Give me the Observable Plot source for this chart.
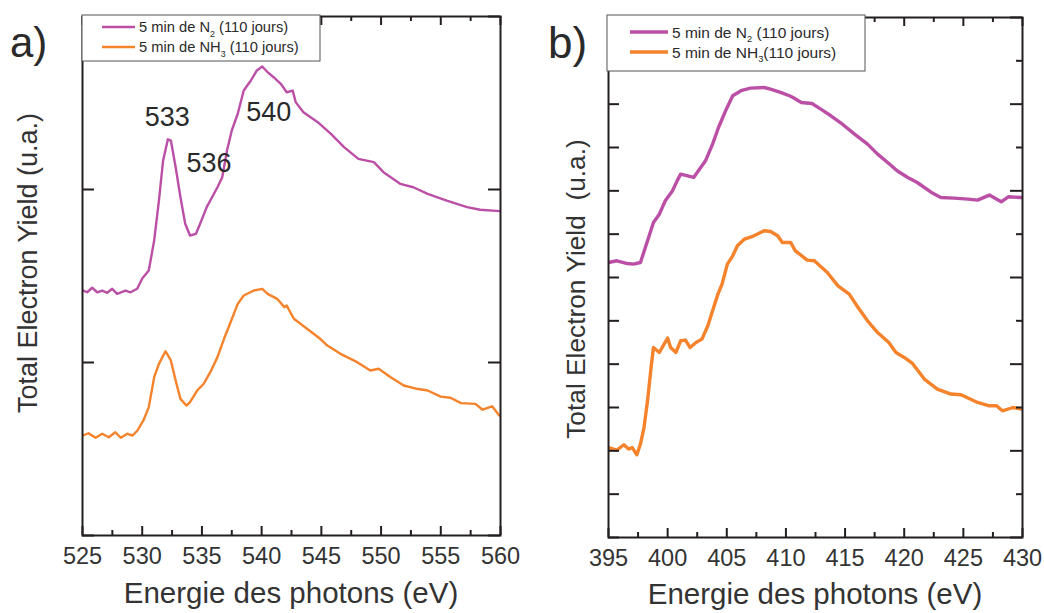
<!DOCTYPE html>
<html>
<head>
<meta charset="utf-8">
<script src="https://cdn.jsdelivr.net/npm/d3@7"></script>
<script src="https://cdn.jsdelivr.net/npm/@observablehq/plot@0.6"></script>
<style>
  html, body { margin: 0; padding: 0; background: #fff; }
  #wrap { position: relative; width: 1044px; height: 613px; overflow: hidden; font-family: "Liberation Sans", Arial, sans-serif; }
  #wrap > .panel { position: absolute; top: 0; }
  #overlay { position: absolute; left: 0; top: 0; pointer-events: none; }
</style>
</head>
<body>
<div id="wrap">
  <div class="panel" id="pa" style="left:0px"></div>
  <div class="panel" id="pb" style="left:530px"></div>
</div>
<script>
// ---------- Data: panel a) O K-edge ----------
const energyA_N2 = [525.06,525.39,525.81,526.23,526.65,527.07,527.49,527.9,528.6,529.02,529.58,530.0,530.55,531.0,531.4,531.75,532.15,532.4,532.8,533.2,533.6,534.0,534.5,534.9,535.4,536.3,536.7,537.1,537.5,538.0,538.5,539.1,539.6,540.05,540.5,541.0,541.6,542.1,542.6,542.85,543.5,544.7,545.8,546.9,548.1,549.4,550.2,551.6,552.7,553.9,555.5,557.2,558.3,560.0];
const yieldA_N2 = [1.416,1.406,1.432,1.406,1.416,1.403,1.426,1.397,1.416,1.406,1.426,1.486,1.532,1.705,1.936,2.168,2.29,2.283,2.129,1.956,1.802,1.734,1.744,1.811,1.898,2.013,2.071,2.225,2.341,2.438,2.572,2.630,2.688,2.711,2.678,2.649,2.611,2.562,2.572,2.505,2.447,2.389,2.322,2.245,2.177,2.158,2.100,2.033,2.013,1.975,1.936,1.898,1.883,1.875];
const energyA_NH3 = [525.05,525.5,526.1,526.65,527.2,527.75,528.2,528.75,529.2,529.6,530.1,530.55,531.0,531.4,531.95,532.4,532.8,533.2,533.7,534.0,534.6,535.15,535.7,536.3,536.85,537.4,538.0,538.5,539.35,540.05,540.5,541.3,541.9,542.1,542.7,543.8,544.9,545.5,546.6,548.0,549.1,549.8,550.8,551.9,553.0,553.9,555.0,555.8,556.7,557.9,558.5,559.3,559.9];
const yieldA_NH3 = [0.578,0.591,0.565,0.588,0.568,0.597,0.565,0.588,0.578,0.607,0.665,0.742,0.915,0.992,1.065,1.012,0.896,0.790,0.751,0.771,0.838,0.877,0.944,1.031,1.137,1.233,1.339,1.387,1.416,1.426,1.397,1.368,1.320,1.329,1.253,1.195,1.137,1.098,1.050,1.002,0.954,0.964,0.915,0.867,0.848,0.838,0.803,0.796,0.765,0.761,0.727,0.747,0.694];

// ---------- Data: panel b) N K-edge ----------
const energyB_N2 = [395.0,395.7,396.6,397.1,397.7,398.3,398.8,399.3,399.8,400.4,400.8,401.1,401.7,402.2,402.6,403.2,403.8,404.3,404.9,405.5,406.2,407.0,408.15,408.7,409.6,410.3,410.6,411.3,412.2,412.95,413.8,414.6,415.8,416.9,417.75,418.6,419.4,420.3,421.1,422.3,423.1,424.2,425.4,426.2,427.2,428.2,428.8,429.9];
const yieldB_N2 = [3.173,3.193,3.161,3.154,3.173,3.423,3.634,3.731,3.885,3.999,4.115,4.193,4.173,4.154,4.231,4.346,4.539,4.731,4.924,5.097,5.155,5.185,5.192,5.174,5.134,5.097,5.077,5.019,5.008,4.943,4.866,4.788,4.654,4.539,4.424,4.327,4.231,4.154,4.096,3.981,3.923,3.916,3.904,3.893,3.951,3.873,3.931,3.923];
const energyB_NH3 = [395.0,395.7,396.3,396.7,397.0,397.4,397.7,398.0,398.3,398.6,398.8,399.3,399.7,400.0,400.25,400.7,401.1,401.5,401.9,402.4,402.9,403.4,403.8,404.25,404.6,405.05,405.5,405.9,406.5,407.3,408.15,408.7,409.3,409.7,410.4,410.8,411.8,412.4,413.5,414.4,415.35,416.1,416.9,417.75,418.7,419.3,420.0,420.7,421.7,422.8,423.95,424.8,426.2,427.2,427.8,428.3,429.2,429.9];
const yieldB_NH3 = [1.038,1.008,1.070,1.020,1.038,0.954,1.078,1.269,1.577,1.961,2.192,2.135,2.231,2.301,2.192,2.135,2.270,2.278,2.192,2.250,2.289,2.443,2.616,2.808,2.924,3.155,3.250,3.366,3.443,3.481,3.539,3.531,3.481,3.404,3.404,3.308,3.201,3.193,3.058,2.904,2.808,2.654,2.500,2.365,2.250,2.135,2.077,2.008,1.828,1.712,1.655,1.647,1.558,1.520,1.520,1.462,1.500,1.481];

// ---------- Ticks, labels, texts ----------
const xMajorA = [525,530,535,540,545,550,555,560];
const xMinorA = [527.5,532.5,537.5,542.5,547.5,552.5,557.5];
const yMajorA = [0,1,2,3];
const xMajorB = [395,400,405,410,415,420,425,430];
const xMinorB = [397.5,402.5,407.5,412.5,417.5,422.5,427.5];
const yMajorB = [0,1,2,3,4,5,6];
const yMinorB = [0.5,1.5,2.5,3.5,4.5,5.5];
const peakLabels = ["533","536","540"];
const peakX = [532.1,535.6,540.6];
const peakY = [2.416,2.150,2.445];
const seriesNames = ["5 min de N2 (110 jours)","5 min de NH3 (110 jours)"];
const colorN2 = "#bb4fa6";
const colorNH3 = "#f5832b";
const ink = "#231f20";
const textInk = "#333";

const toRows = (xs, ys) => xs.map((x, i) => ({x, y: ys[i]}));

// ---------- Panel a ----------
const hA = 613, mTA = 16, mBA = 78, wA = 520, mLA = 82, mRA = 20;
const plotHA = hA - mTA - mBA, plotWA = wA - mLA - mRA;
const chartA = Plot.plot({
  width: wA, height: hA,
  marginLeft: mLA, marginRight: mRA, marginTop: mTA, marginBottom: mBA,
  style: {background: "transparent", fontFamily: "Liberation Sans, Arial, sans-serif", color: ink},
  x: {domain: [525, 560], axis: null},
  y: {domain: [0, 3], axis: null},
  marks: [
    Plot.line(toRows(energyA_N2, yieldA_N2), {x: "x", y: "y", stroke: colorN2, strokeWidth: 2.4, clip: true}),
    Plot.line(toRows(energyA_NH3, yieldA_NH3), {x: "x", y: "y", stroke: colorNH3, strokeWidth: 2.4, clip: true}),
    Plot.frame({stroke: ink, strokeWidth: 2}),
    Plot.tickX(xMajorA, {x: d => d, insetTop: plotHA - 9, stroke: ink, strokeWidth: 2}),
    Plot.tickX(xMinorA, {x: d => d, insetTop: plotHA - 5, stroke: ink, strokeWidth: 2}),
    Plot.tickX(xMajorA, {x: d => d, insetBottom: plotHA - 9, stroke: ink, strokeWidth: 2}),
    Plot.tickX(xMinorA, {x: d => d, insetBottom: plotHA - 5, stroke: ink, strokeWidth: 2}),
    Plot.tickY(yMajorA, {y: d => d, insetRight: plotWA - 12, stroke: ink, strokeWidth: 2}),
    Plot.tickY(yMajorA, {y: d => d, insetLeft: plotWA - 12, stroke: ink, strokeWidth: 2}),
    Plot.axisX(xMajorA, {tickSize: 0, tickPadding: 12, fontSize: 23.5, fill: textInk, label: null}),
    Plot.text(peakLabels, {x: (d, i) => peakX[i], y: (d, i) => peakY[i], text: d => d, fontSize: 27, fill: "#2a2a2a"})
  ]
});
document.getElementById("pa").appendChild(chartA);

// ---------- Panel b ----------
const hB = 613, mTB = 17, mBB = 76, wB = 514, mLB = 78, mRB = 22;
const plotHB = hB - mTB - mBB, plotWB = wB - mLB - mRB;
const chartB = Plot.plot({
  width: wB, height: hB,
  marginLeft: mLB, marginRight: mRB, marginTop: mTB, marginBottom: mBB,
  style: {background: "transparent", fontFamily: "Liberation Sans, Arial, sans-serif", color: ink},
  x: {domain: [395, 430], axis: null},
  y: {domain: [0, 6], axis: null},
  marks: [
    Plot.line(toRows(energyB_N2, yieldB_N2), {x: "x", y: "y", stroke: colorN2, strokeWidth: 3.4, clip: true}),
    Plot.line(toRows(energyB_NH3, yieldB_NH3), {x: "x", y: "y", stroke: colorNH3, strokeWidth: 3.4, clip: true}),
    Plot.frame({stroke: ink, strokeWidth: 2}),
    Plot.tickX(xMajorB, {x: d => d, insetTop: plotHB - 9, stroke: ink, strokeWidth: 2}),
    Plot.tickX(xMinorB, {x: d => d, insetTop: plotHB - 5, stroke: ink, strokeWidth: 2}),
    Plot.tickX(xMajorB, {x: d => d, insetBottom: plotHB - 9, stroke: ink, strokeWidth: 2}),
    Plot.tickX(xMinorB, {x: d => d, insetBottom: plotHB - 5, stroke: ink, strokeWidth: 2}),
    Plot.tickY(yMajorB.concat(yMinorB), {y: d => d, insetRight: plotWB - 11, stroke: ink, strokeWidth: 2}),
    Plot.tickY(yMajorB, {y: d => d, insetLeft: plotWB - 12, stroke: ink, strokeWidth: 2}),
    Plot.tickY(yMinorB, {y: d => d, insetLeft: plotWB - 6, stroke: ink, strokeWidth: 2}),
    Plot.axisX(xMajorB, {tickSize: 0, tickPadding: 12, fontSize: 23.5, fill: textInk, label: null})
  ]
});
document.getElementById("pb").appendChild(chartB);

// ---------- Overlay: panel letters, axis titles, legends ----------
const ov = d3.select("#wrap").append("svg").attr("id", "overlay")
  .attr("width", 1044).attr("height", 613)
  .style("font-family", "Liberation Sans, Arial, sans-serif");

const txt = (x, y, s, size, opts = {}) => {
  const t = ov.append("text").attr("x", x).attr("y", y).attr("font-size", size)
    .attr("fill", opts.fill || textInk).attr("text-anchor", opts.anchor || "start")
    .style("white-space", "pre").text(s);
  if (opts.rotate) t.attr("transform", `rotate(-90 ${x} ${y})`);
  return t;
};

txt(10, 57, "a)", 42, {fill: "#2a2a2a"});
txt(548, 58, "b)", 44, {fill: "#2a2a2a"});
txt(291, 603, "Energie des photons (eV)", 29.5, {anchor: "middle"});
txt(815, 604, "Energie des photons (eV)", 29.5, {anchor: "middle"});
txt(37, 263, "Total Electron Yield (u.a.)", 27, {anchor: "middle", rotate: true});
txt(585, 289, "Total Electron Yield  (u.a.)", 26.3, {anchor: "middle", rotate: true});

function legend(x, y, w, h, rowY, lineX1, lineX2, textX, size, lw, tight) {
  ov.append("rect").attr("x", x).attr("y", y).attr("width", w).attr("height", h)
    .attr("fill", "#fff").attr("stroke", "#555").attr("stroke-width", 1);
  const cols = [colorN2, colorNH3];
  seriesNames.forEach((name, i) => {
    ov.append("line").attr("x1", lineX1).attr("x2", lineX2).attr("y1", rowY[i]).attr("y2", rowY[i])
      .attr("stroke", cols[i]).attr("stroke-width", lw);
    const m = name.match(/^(.* N(?:H)?)(\d)( \(.*\))$/);
    const t = ov.append("text").attr("x", textX).attr("y", rowY[i] + size * 0.36)
      .attr("font-size", size).attr("fill", "#2a2a2a").style("white-space", "pre");
    t.append("tspan").text(m[1]);
    t.append("tspan").attr("dy", size * 0.3).attr("font-size", size * 0.6).text(m[2]);
    t.append("tspan").attr("dy", -size * 0.3).text(tight && i === 1 ? m[3].trimStart() : m[3]);
  });
}
legend(82, 15, 238, 46, [27, 47], 102, 135, 139, 14.7, 2.6, false);
legend(607, 15, 258, 56, [32, 52], 630, 668, 672, 15.5, 3.6, true);
</script>
</body>
</html>
